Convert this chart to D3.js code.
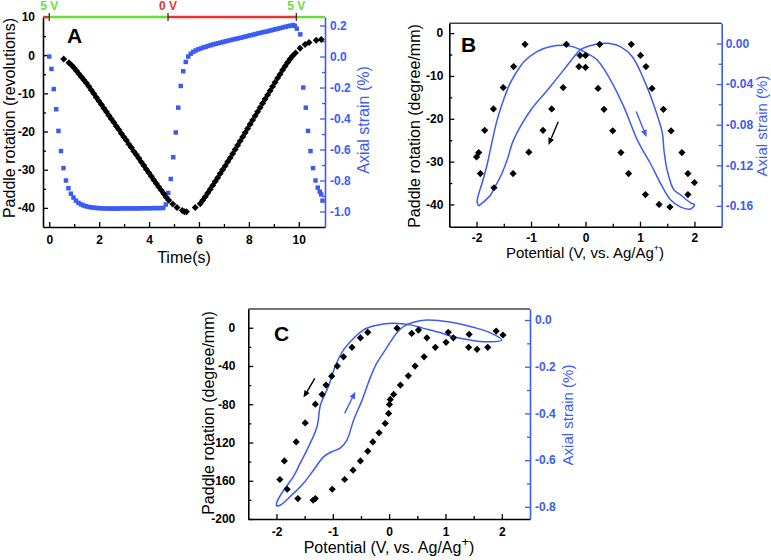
<!DOCTYPE html>
<html><head><meta charset="utf-8">
<script src="https://cdn.jsdelivr.net/npm/d3@7"></script>
<style>body{margin:0;background:#fff} text{font-family:Arial,"Liberation Sans",sans-serif}</style>
</head><body><svg id="c" width="771" height="560"></svg>
<script>
// ---------------- DATA ----------------
// Panel A: paddle rotation (revolutions) vs time (s)
const aRotation = [[0.58,-1.0],[0.79,-2.0],[0.89,-2.6],[0.99,-3.3],[1.09,-4.1],[1.19,-4.9],[1.29,-5.7],[1.39,-6.5],[1.49,-7.3],[1.59,-8.2],[1.69,-9.2],[1.79,-10.1],[1.89,-11.1],[1.99,-12.0],[2.09,-12.9],[2.19,-13.9],[2.29,-14.8],[2.39,-15.8],[2.49,-16.7],[2.59,-17.6],[2.69,-18.6],[2.79,-19.5],[2.89,-20.5],[2.99,-21.4],[3.09,-22.3],[3.19,-23.3],[3.29,-24.2],[3.39,-25.2],[3.49,-26.1],[3.59,-27.0],[3.69,-28.0],[3.79,-28.9],[3.89,-29.9],[3.99,-30.8],[4.09,-31.7],[4.19,-32.7],[4.29,-33.6],[4.39,-34.5],[4.49,-35.4],[4.59,-36.3],[4.69,-37.2],[4.79,-38.0],[4.95,-39.0],[5.12,-39.9],[5.33,-40.7],[5.42,-41.0],[5.50,-41.0],[5.85,-39.9],[6.05,-38.9],[6.15,-38.0],[6.25,-37.1],[6.35,-36.1],[6.45,-35.1],[6.55,-34.1],[6.65,-33.1],[6.75,-32.1],[6.85,-31.0],[6.95,-30.0],[7.05,-29.0],[7.15,-27.9],[7.25,-26.9],[7.35,-25.8],[7.45,-24.7],[7.55,-23.6],[7.65,-22.5],[7.75,-21.4],[7.85,-20.3],[7.95,-19.2],[8.05,-18.1],[8.15,-17.0],[8.25,-15.9],[8.35,-14.8],[8.45,-13.7],[8.55,-12.6],[8.65,-11.5],[8.75,-10.4],[8.85,-9.3],[8.95,-8.2],[9.05,-7.1],[9.15,-6.0],[9.25,-5.0],[9.35,-3.9],[9.45,-2.9],[9.55,-1.9],[9.65,-1.0],[9.75,-0.2],[9.87,0.6],[10.05,1.8],[10.25,2.8],[10.41,3.3],[10.70,3.9],[10.90,4.1]];
// Panel A: axial strain (%) vs time (s)
const aStrain = [[0.00,0.000],[0.09,-0.08],[0.18,-0.21],[0.28,-0.34],[0.37,-0.48],[0.47,-0.61],[0.57,-0.72],[0.67,-0.80],[0.77,-0.85],[0.87,-0.885],[0.97,-0.91],[1.07,-0.93],[1.17,-0.944],[1.27,-0.954],[1.37,-0.961],[1.47,-0.966],[1.57,-0.970],[1.67,-0.973],[1.77,-0.975],[1.87,-0.977],[1.97,-0.978],[2.07,-0.979],[2.17,-0.980],[2.27,-0.980],[2.37,-0.981],[2.47,-0.981],[2.57,-0.981],[2.67,-0.981],[2.77,-0.981],[2.87,-0.980],[2.97,-0.980],[3.07,-0.980],[3.17,-0.980],[3.27,-0.980],[3.37,-0.980],[3.47,-0.980],[3.57,-0.980],[3.67,-0.979],[3.77,-0.979],[3.87,-0.979],[3.97,-0.979],[4.07,-0.979],[4.17,-0.978],[4.27,-0.978],[4.37,-0.978],[4.47,-0.978],[4.57,-0.977],[4.67,-0.955],[4.77,-0.88],[4.87,-0.79],[4.97,-0.65],[5.07,-0.49],[5.17,-0.33],[5.27,-0.19],[5.37,-0.095],[5.47,-0.035],[5.57,0.000],[5.67,0.018],[5.77,0.030],[5.87,0.039],[5.97,0.046],[6.07,0.052],[6.17,0.058],[6.27,0.063],[6.37,0.068],[6.47,0.073],[6.57,0.078],[6.67,0.082],[6.77,0.086],[6.87,0.090],[6.97,0.094],[7.07,0.098],[7.17,0.102],[7.27,0.106],[7.37,0.110],[7.47,0.114],[7.57,0.117],[7.67,0.121],[7.77,0.125],[7.87,0.129],[7.97,0.133],[8.07,0.137],[8.17,0.141],[8.27,0.145],[8.37,0.149],[8.47,0.153],[8.57,0.157],[8.67,0.160],[8.77,0.164],[8.87,0.168],[8.97,0.172],[9.07,0.176],[9.17,0.180],[9.27,0.184],[9.37,0.188],[9.47,0.192],[9.57,0.196],[9.67,0.199],[9.77,0.203],[9.84,0.198],[9.92,0.180],[10.06,0.143],[10.18,-0.20],[10.28,-0.33],[10.37,-0.48],[10.47,-0.61],[10.57,-0.72],[10.67,-0.80],[10.76,-0.846],[10.84,-0.872],[10.90,-0.89],[10.95,-0.93]];
// Panel A: applied voltage switching
const voltageSwitchTimes = [0, 4.76, 9.9];
const voltageSwitchLabels = ["5 V", "0 V", "5 V"];
const voltageSegmentLevels = [0, 5, 0, 5];

// Panel B: paddle rotation (degree/mm) vs potential (V)
const bRotation = [[-2.00,-28.9],[-1.96,-27.9],[-1.93,-32.8],[-1.85,-22.7],[-1.69,-17.7],[-1.51,-12.7],[-1.32,-7.8],[-1.11,-2.6],[-1.68,-36.1],[-1.33,-32.8],[-1.04,-27.8],[-0.78,-22.7],[-0.62,-17.7],[-0.41,-12.7],[-0.35,-2.6],[-0.12,-7.8],[-0.10,-5.2],[0.00,-5.2],[0.00,-8.0],[0.23,-12.9],[0.26,-2.6],[0.34,-17.8],[0.50,-22.8],[0.65,-27.9],[0.79,-32.8],[1.10,-37.7],[1.35,-40.0],[1.55,-40.6],[0.84,-2.6],[1.01,-5.2],[1.11,-7.8],[1.22,-12.9],[1.43,-17.8],[1.57,-22.8],[1.77,-27.9],[1.88,-32.8],[2.00,-34.9],[1.88,-37.7]];
// Panel B: axial strain (%) loop vs potential (V)
const bStrain = [[-1.96,-0.160],[-1.99,-0.156],[-1.96,-0.148],[-1.90,-0.138],[-1.80,-0.118],[-1.72,-0.098],[-1.62,-0.075],[-1.50,-0.055],[-1.40,-0.041],[-1.32,-0.033],[-1.13,-0.018],[-0.89,-0.008],[-0.64,-0.003],[-0.34,-0.002],[-0.09,-0.006],[-0.03,-0.008],[0.21,-0.016],[0.46,-0.036],[0.70,-0.062],[0.95,-0.095],[1.05,-0.105],[1.19,-0.118],[1.38,-0.138],[1.56,-0.154],[1.74,-0.161],[1.93,-0.163],[2.00,-0.159],[1.93,-0.157],[1.74,-0.149],[1.62,-0.144],[1.50,-0.125],[1.44,-0.105],[1.41,-0.088],[1.30,-0.068],[1.13,-0.043],[0.86,-0.013],[0.64,-0.003],[0.45,0.000],[0.28,0.000],[0.10,-0.002],[-0.09,-0.006],[-0.21,-0.013],[-0.40,-0.026],[-0.70,-0.046],[-1.01,-0.066],[-1.32,-0.095],[-1.44,-0.115],[-1.56,-0.131],[-1.68,-0.143],[-1.74,-0.149],[-1.87,-0.156],[-1.96,-0.160]];

// Panel C: paddle rotation (degree/mm) vs potential (V)
const cRotation = [[2.02,-7.6],[1.90,-3.5],[1.75,-20.5],[1.56,-22.6],[1.42,-6.9],[1.41,-20.5],[1.14,-10.5],[1.05,-4.8],[1.01,-15.3],[0.82,-20.5],[0.67,-10.5],[0.52,-2.4],[0.40,-5.9],[0.62,-30.4],[0.46,-40.1],[0.34,-50.3],[0.20,-60.0],[0.08,-69.7],[0.02,-75.0],[0.005,-80.2],[-0.01,-89.6],[-0.07,-100.1],[-0.18,-109.9],[-0.29,-119.4],[-0.38,-129.1],[-0.51,-139.3],[-0.64,-149.0],[-0.79,-158.7],[-1.01,-168.9],[-1.31,-178.6],[-1.35,-180.4],[-1.62,-178.6],[-1.81,-168.9],[-1.94,-158.7],[-1.86,-139.3],[-1.65,-119.4],[-1.49,-99.5],[-1.31,-79.9],[-1.19,-69.7],[-1.12,-60.0],[-1.02,-50.6],[-0.92,-40.1],[-0.81,-30.4],[-0.66,-20.5],[-0.51,-10.5],[-0.38,-4.8],[0.14,-0.5]];
// Panel C: axial strain (%) loop vs potential (V)
const cStrain = [[-2.00,-0.797],[-1.99,-0.778],[-1.87,-0.728],[-1.70,-0.671],[-1.58,-0.614],[-1.46,-0.557],[-1.28,-0.457],[-1.22,-0.364],[-1.08,-0.286],[-0.96,-0.200],[-0.81,-0.128],[-0.63,-0.078],[-0.46,-0.043],[-0.28,-0.026],[-0.10,-0.017],[0.08,-0.014],[0.37,-0.021],[0.61,-0.036],[0.90,-0.054],[1.14,-0.072],[1.44,-0.086],[1.73,-0.093],[2.00,-0.086],[1.79,-0.054],[1.49,-0.031],[1.20,-0.014],[0.90,-0.003],[0.67,0.000],[0.43,-0.010],[0.25,-0.029],[0.12,-0.060],[0.02,-0.095],[-0.10,-0.140],[-0.22,-0.185],[-0.34,-0.250],[-0.48,-0.343],[-0.63,-0.428],[-0.75,-0.514],[-0.87,-0.549],[-1.02,-0.564],[-1.16,-0.585],[-1.34,-0.642],[-1.52,-0.699],[-1.76,-0.757],[-1.93,-0.792],[-2.00,-0.797]];

// Tick values
const aXTicks = [0,2,4,6,8,10], aXMinor = [1,3,5,7,9];
const aYTicks = [-40,-30,-20,-10,0,10], aYMinor = [-35,-25,-15,-5,5];
const aY2Ticks = [-1.0,-0.8,-0.6,-0.4,-0.2,0.0,0.2], aY2Minor = [-0.9,-0.7,-0.5,-0.3,-0.1,0.1];
const bXTicks = [-2,-1,0,1,2], bXMinor = [-1.5,-0.5,0.5,1.5];
const bYTicks = [-40,-30,-20,-10,0], bYMinor = [-35,-25,-15,-5];
const bY2Ticks = [-0.16,-0.12,-0.08,-0.04,0.00], bY2Minor = [-0.14,-0.10,-0.06,-0.02];
const cXTicks = [-2,-1,0,1,2], cXMinor = [-1.5,-0.5,0.5,1.5];
const cYTicks = [-200,-160,-120,-80,-40,0], cYMinor = [-180,-140,-100,-60,-20];
const cY2Ticks = [-0.8,-0.6,-0.4,-0.2,0.0], cY2Minor = [-0.7,-0.5,-0.3,-0.1];

// Direction arrows [x1,y1,x2,y2] in data units (black: left axis, blue: right axis)
const bArrowBlack = [-0.50,-20.7,-0.68,-26.1];
const bArrowBlue = [0.93,-0.067,1.12,-0.092];
const cArrowBlack = [-1.32,-53,-1.52,-73];
const cArrowBlue = [-0.79,-0.40,-0.60,-0.307];

// ---------------- DRAWING ----------------
const svg = d3.select("#c");
const BLUE = "#3b5cf4", BLACK = "#000";
const FONT = 'Arial,"Liberation Sans",sans-serif';
const fInt = d => String(d);
const f1 = d => d.toFixed(1);
const f2 = d => d.toFixed(2);

function styleAxis(g, color){
  g.attr("font-family", FONT).attr("font-size", 12).attr("font-weight", "bold");
  g.selectAll("text").attr("fill", color);
  g.selectAll("line").attr("stroke", color).attr("stroke-width", 1.3);
  g.select(".domain").attr("stroke", color).attr("stroke-width", 1.6);
}

function axes(p){
  const g = svg.append("g");
  const [yb, yt] = p.yL.range(); const [xl, xr] = p.x.range();
  if (p.top){
    g.append("line").attr("x1", xl).attr("x2", xr).attr("y1", yt).attr("y2", yt)
      .attr("stroke", "#444").attr("stroke-width", 1.6);
  }
  let a = g.append("g").attr("transform", `translate(0,${yb})`)
    .call(d3.axisBottom(p.x).tickValues(p.xTicks).tickSizeInner(-5).tickSizeOuter(0).tickPadding(p.xPad).tickFormat(fInt));
  styleAxis(a, BLACK);
  a = g.append("g").attr("transform", `translate(0,${yb})`)
    .call(d3.axisBottom(p.x).tickValues(p.xMinor).tickSizeInner(-3).tickSizeOuter(0).tickFormat(""));
  a.select(".domain").remove(); styleAxis(a, BLACK);
  a = g.append("g").attr("transform", `translate(${xl},0)`)
    .call(d3.axisLeft(p.yL).tickValues(p.yTicks).tickSizeInner(-5).tickSizeOuter(0).tickPadding(p.yPad).tickFormat(fInt));
  styleAxis(a, BLACK);
  a = g.append("g").attr("transform", `translate(${xl},0)`)
    .call(d3.axisLeft(p.yL).tickValues(p.yMinor).tickSizeInner(-3).tickSizeOuter(0).tickFormat(""));
  a.select(".domain").remove(); styleAxis(a, BLACK);
  a = g.append("g").attr("transform", `translate(${xr},0)`)
    .call(d3.axisRight(p.yR).tickValues(p.y2Ticks).tickSizeInner(-5).tickSizeOuter(0).tickPadding(p.y2Pad).tickFormat(p.y2Fmt));
  styleAxis(a, BLUE);
  a = g.append("g").attr("transform", `translate(${xr},0)`)
    .call(d3.axisRight(p.yR).tickValues(p.y2Minor).tickSizeInner(-3).tickSizeOuter(0).tickFormat(""));
  a.select(".domain").remove(); styleAxis(a, BLUE);
}

function vtitle(x, y, txt, color, size){
  svg.append("text").attr("transform", `translate(${x},${y}) rotate(-90)`)
    .attr("text-anchor", "middle").attr("font-family", FONT).attr("font-size", size)
    .attr("fill", color).text(txt);
}
function potentialTitle(x, y, size, supSize){
  const t = svg.append("text").attr("x", x).attr("y", y).attr("text-anchor", "middle")
    .attr("font-family", FONT).attr("font-size", size).attr("fill", "#000");
  t.append("tspan").text("Potential (V, vs. Ag/Ag");
  t.append("tspan").attr("dy", -size*0.45).attr("font-size", supSize).text("+");
  t.append("tspan").attr("dy", size*0.45).text(")");
}
function panelLetter(x, y, s){
  svg.append("text").attr("x", x).attr("y", y).attr("font-family", FONT)
    .attr("font-size", 21).attr("font-weight", "bold").text(s);
}
const diamond = (size) => d3.symbol(d3.symbolSquare, size)();
function diamonds(data, x, y, size){
  svg.append("g").selectAll("path").data(data).join("path")
    .attr("d", diamond(size))
    .attr("transform", d => `translate(${x(d[0])},${y(d[1])}) rotate(45)`)
    .attr("fill", "#000");
}
function arrow(a, x, y, color){
  const x1 = x(a[0]), y1 = y(a[1]), x2 = x(a[2]), y2 = y(a[3]);
  const ang = Math.atan2(y2-y1, x2-x1);
  const L = 7, Wd = 3;
  const bx = x2 - L*Math.cos(ang), by = y2 - L*Math.sin(ang);
  svg.append("line").attr("x1", x1).attr("y1", y1).attr("x2", bx).attr("y2", by)
    .attr("stroke", color).attr("stroke-width", 1.4);
  svg.append("path").attr("d", `M${x2},${y2}L${bx - Wd*Math.sin(ang)},${by + Wd*Math.cos(ang)}L${bx + Wd*Math.sin(ang)},${by - Wd*Math.cos(ang)}Z`)
    .attr("fill", color);
}

// ----- Panel A -----
const ax = d3.scaleLinear().domain([-0.25, 11.05]).range([43, 325]);
const ayL = d3.scaleLinear().domain([-45, 10]).range([227, 17]);
const ayR = d3.scaleLinear().domain([-1.1, 0.255]).range([227, 17]);
axes({x: ax, yL: ayL, yR: ayR, top: false, xTicks: aXTicks, xMinor: aXMinor, yTicks: aYTicks, yMinor: aYMinor,
  y2Ticks: aY2Ticks, y2Minor: aY2Minor, y2Fmt: f1, xPad: 8, yPad: 8, y2Pad: 5});
// voltage bar
const GREEN = "#66e22e", RED = "#ea3434";
const bounds = [ax.domain()[0], ...voltageSwitchTimes, ax.domain()[1]];
voltageSegmentLevels.forEach((lv, i) => {
  svg.append("line").attr("x1", ax(bounds[i])).attr("x2", ax(bounds[i+1])).attr("y1", 17).attr("y2", 17)
    .attr("stroke", lv > 0 ? GREEN : RED).attr("stroke-width", 2.4);
});
voltageSwitchTimes.forEach((t, i) => {
  svg.append("line").attr("x1", ax(t)).attr("x2", ax(t)).attr("y1", 13).attr("y2", 21).attr("stroke", "#222").attr("stroke-width", 1.2);
  svg.append("text").attr("x", ax(t)).attr("y", 10).attr("text-anchor", "middle")
    .attr("font-family", FONT).attr("font-size", 12).attr("font-weight", "bold")
    .attr("fill", voltageSwitchLabels[i].startsWith("0") ? RED : GREEN).text(voltageSwitchLabels[i]);
});
svg.append("g").selectAll("path").data(aStrain).join("path")
  .attr("d", d3.symbol(d3.symbolSquare, 20)())
  .attr("transform", d => `translate(${ax(d[0])},${ayR(d[1])})`).attr("fill", BLUE);
diamonds(aRotation, ax, ayL, 24);
panelLetter(67, 43, "A");
vtitle(15, 118, "Paddle rotation (revolutions)", "#000", 16);
vtitle(369, 120, "Axial strain (%)", BLUE, 16);
svg.append("text").attr("x", 184).attr("y", 263).attr("text-anchor", "middle").attr("font-family", FONT)
  .attr("font-size", 16).text("Time(s)");

// ----- Panel B -----
const bx = d3.scaleLinear().domain([-2.5, 2.5]).range([449.3, 721.7]);
const byL = d3.scaleLinear().domain([-45.2, 2.3]).range([226.7, 23.3]);
const byR = d3.scaleLinear().domain([-0.1805, 0.0199]).range([226.7, 23.3]);
axes({x: bx, yL: byL, yR: byR, top: true, xTicks: bXTicks, xMinor: bXMinor, yTicks: bYTicks, yMinor: bYMinor,
  y2Ticks: bY2Ticks, y2Minor: bY2Minor, y2Fmt: f2, xPad: 7, yPad: 6, y2Pad: 4});
svg.append("path").datum(bStrain)
  .attr("d", d3.line().x(d => bx(d[0])).y(d => byR(d[1])).curve(d3.curveCatmullRom))
  .attr("fill", "none").attr("stroke", BLUE).attr("stroke-width", 1.5);
diamonds(bRotation, bx, byL, 26);
arrow(bArrowBlack, bx, byL, "#000");
arrow(bArrowBlue, bx, byR, BLUE);
panelLetter(461, 52, "B");
vtitle(420, 126, "Paddle rotation (degree/mm)", "#000", 16);
vtitle(767, 126, "Axial strain (%)", BLUE, 15);
potentialTitle(585, 258, 15, 9);

// ----- Panel C -----
const cx = d3.scaleLinear().domain([-2.5, 2.5]).range([248.3, 530]);
const cyL = d3.scaleLinear().domain([-200, 19.6]).range([519, 309]);
const cyR = d3.scaleLinear().domain([-0.852, 0.047]).range([519, 309]);
axes({x: cx, yL: cyL, yR: cyR, top: true, xTicks: cXTicks, xMinor: cXMinor, yTicks: cYTicks, yMinor: cYMinor,
  y2Ticks: cY2Ticks, y2Minor: cY2Minor, y2Fmt: f1, xPad: 8, yPad: 13, y2Pad: 5});
svg.append("path").datum(cStrain)
  .attr("d", d3.line().x(d => cx(d[0])).y(d => cyR(d[1])).curve(d3.curveCatmullRom))
  .attr("fill", "none").attr("stroke", BLUE).attr("stroke-width", 1.5);
diamonds(cRotation, cx, cyL, 26);
arrow(cArrowBlack, cx, cyL, "#000");
arrow(cArrowBlue, cx, cyR, BLUE);
panelLetter(274, 341, "C");
vtitle(214, 413, "Paddle rotation (degree/mm)", "#000", 16);
vtitle(573, 415, "Axial strain (%)", BLUE, 15);
potentialTitle(389, 553, 16, 13);
</script></body></html>
